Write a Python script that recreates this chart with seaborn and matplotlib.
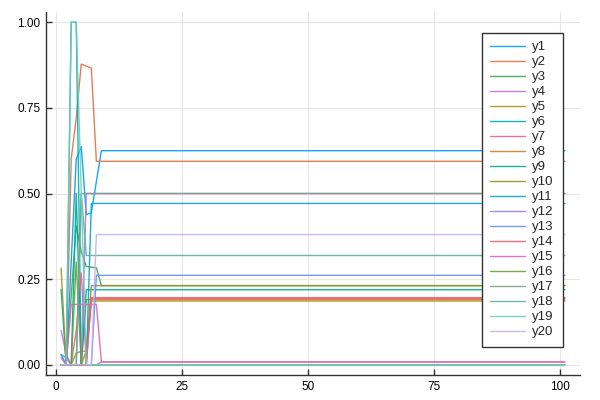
import pandas as pd
import numpy as np
import matplotlib
matplotlib.use("Agg")
import matplotlib.pyplot as plt
import seaborn as sns

# x positions: the early steps, then the flat tail ends at x=101
x_vals = [1, 2, 3, 4, 5, 6, 7, 8, 9, 101]

# values (last value = level of the flat tail)
y1 = [0.03, 0.0, 0.30, 0.60, 0.637, 0.438, 0.444, 0.535, 0.625, 0.625]
y2 = [0.0, 0.0, 0.60, 0.72, 0.878, 0.872, 0.866, 0.594, 0.594, 0.594]
y3 = [0.0, 0.0, 0.20, 0.405, 0.33, 0.287, 0.285, 0.283, 0.231, 0.231]
y4 = [0.10, 0.03, 0.0, 0.0, 0.0, 0.0, 0.0, 0.0, 0.008, 0.008]
y5 = [0.0, 0.0, 0.0, 0.034, 0.039, 0.04, 0.186, 0.186, 0.186, 0.186]
y6 = [0.22, 0.0, 1.0, 1.0, 0.0, 0.0, 0.0, 0.0, 0.0, 0.0]
y7 = [0.02, 0.0, 0.0, 0.10, 0.268, 0.0, 0.193, 0.193, 0.193, 0.193]
y8 = [0.0, 0.0, 0.0, 0.0, 0.0, 0.19, 0.19, 0.19, 0.19, 0.19]
y9 = [0.0, 0.0, 0.0, 0.5, 0.0, 0.219, 0.219, 0.219, 0.219, 0.219]
y10 = [0.282, 0.0, 0.0, 0.0, 0.0, 0.04, 0.231, 0.231, 0.231, 0.231]
y11 = [0.0, 0.0, 0.0, 0.0, 0.0, 0.0, 0.471, 0.471, 0.471, 0.471]
y12 = [0.0, 0.0, 0.0, 0.0, 0.0, 0.50, 0.50, 0.50, 0.50, 0.50]
y13 = [0.03, 0.02, 0.0, 0.0, 0.0, 0.0, 0.0, 0.261, 0.261, 0.261]
y14 = [0.0, 0.0, 0.0, 0.0, 0.0, 0.0, 0.196, 0.196, 0.196, 0.196]
y15 = [0.0, 0.0, 0.176, 0.176, 0.176, 0.176, 0.176, 0.176, 0.008, 0.008]
y16 = [0.0, 0.0, 0.0, 0.30, 0.0, 0.0, 0.0, 0.0, 0.0, 0.0]
y17 = [0.0, 0.0, 0.0, 0.0, 0.50, 0.50, 0.50, 0.50, 0.50, 0.50]
y18 = [0.0, 0.0, 0.0, 0.0, 0.50, 0.319, 0.319, 0.319, 0.319, 0.319]
y19 = [0.0, 0.0, 1.0, 1.0, 0.50, 0.0, 0.0, 0.0, 0.0, 0.0]
y20 = [0.0, 0.0, 0.0, 0.0, 0.0, 0.0, 0.0, 0.38, 0.38, 0.38]

series = [y1, y2, y3, y4, y5, y6, y7, y8, y9, y10,
          y11, y12, y13, y14, y15, y16, y17, y18, y19, y20]
names = ["y" + str(i + 1) for i in range(len(series))]

colors = ["#009AFA", "#E36F47", "#3EA44E", "#C371D2", "#AC8E18",
          "#00AAAE", "#ED5E93", "#C68225", "#00A98D", "#8E971E",
          "#00A8CB", "#9B7FE9", "#618DF6", "#F05F73", "#DD65B7",
          "#6C9F33", "#8A9A82", "#5FAE9E", "#6CCDBB", "#C9B0EA"]

# long table for seaborn
rows = []
for name, vals in zip(names, series):
    for xv, yv in zip(x_vals, vals):
        rows.append({"x": xv, "y": yv, "series": name})
df = pd.DataFrame(rows)

sns.set_style("white")
plt.rcParams["font.family"] = ["Liberation Sans", "DejaVu Sans"]

fig = plt.figure(figsize=(6, 4), dpi=100)
ax = fig.add_axes([46 / 600, 1 - 375 / 400, (580 - 46) / 600, (375 - 12) / 400])

sns.lineplot(data=df, x="x", y="y", hue="series", hue_order=names,
             palette=colors, estimator=None, sort=False, lw=1.0, alpha=0.9, ax=ax)

ax.set_xlim(-2, 104)
ax.set_ylim(-0.03, 1.03)
ax.set_xticks([0, 25, 50, 75, 100])
ax.set_yticks([0, 0.25, 0.5, 0.75, 1.0])
ax.set_yticklabels(["0.00", "0.25", "0.50", "0.75", "1.00"])
ax.set_xlabel("")
ax.set_ylabel("")
ax.grid(True, color="#e6e6e6", lw=0.8)
ax.set_axisbelow(True)
for side in ["top", "right"]:
    ax.spines[side].set_visible(False)
for side in ["left", "bottom"]:
    ax.spines[side].set_color("#333333")
    ax.spines[side].set_linewidth(1.0)
ax.tick_params(direction="in", length=4, width=1, color="#333333",
               labelsize=8.5, labelcolor="black", left=True, bottom=True, pad=4)

handles, labels = ax.get_legend_handles_labels()
leg = ax.legend(handles, labels, loc="upper right",
                bbox_to_anchor=(562.5 / 600, 1 - 32.5 / 400),
                bbox_transform=fig.transFigure, borderaxespad=0,
                fontsize=9.5, labelspacing=0.21, handlelength=2.65,
                handletextpad=0.55, borderpad=0.65, fancybox=False,
                framealpha=1, edgecolor="#333333")
leg.get_frame().set_linewidth(1.0)

fig.savefig("out.png", dpi=100)
